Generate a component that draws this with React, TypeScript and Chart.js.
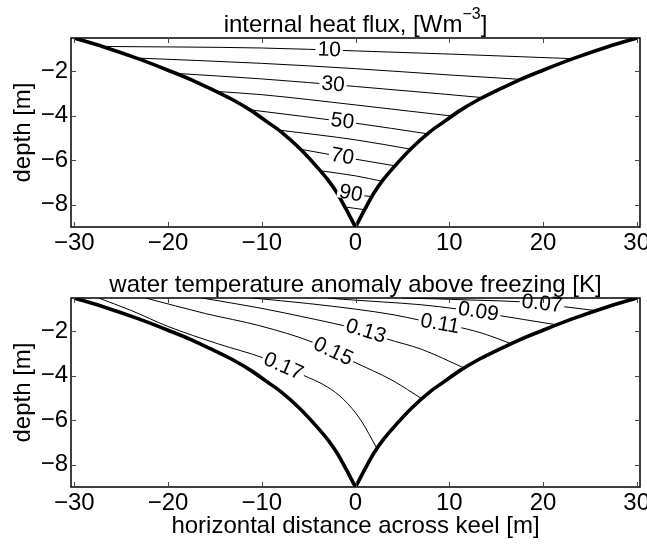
import React, { useEffect, useRef } from 'react';
import { Chart, registerables } from 'chart.js';

Chart.register(...registerables);

const FONT = "'Liberation Sans', Arial, Helvetica, sans-serif";

// axes
const X_TICKS = [-30, -20, -10, 0, 10, 20, 30];
const Y_TICKS = [-8, -6, -4, -2];
const X_RANGE = [-30.35, 30.35];
const Y_RANGE = [-9, -0.5];

// texts
const TOP_TITLE = 'internal heat flux, [Wm';
const TOP_TITLE_SUP = '\u22123';
const TOP_TITLE_END = ']';
const BOTTOM_TITLE = 'water temperature anomaly above freezing [K]';
const Y_LABEL = 'depth [m]';
const X_LABEL = 'horizontal distance across keel [m]';

// keel outline (symmetric): half width [m] and depth [m]
const KEEL_HALF_WIDTH = [30, 27, 23.2, 20, 17.5, 15, 13, 11, 9.5, 8, 6, 4, 3, 2, 1, 0.5, 0];
const KEEL_DEPTH = [-0.5, -0.88, -1.43, -1.95, -2.38, -2.88, -3.3, -3.8, -4.25, -4.7, -5.45, -6.35, -6.85, -7.45, -8.2, -8.6, -9];

// internal heat flux contours [W m^-3]
const FLUX_LEVELS = [10, 20, 30, 40, 50, 60, 70, 80, 90, 100];
const FLUX_X = [
  [-27, -10, 0, 10.5, 23.2],
  [-23.4, -10, 0, 10.3, 17.6],
  [-19.2, -10, 0, 9.6, 13.5],
  [-14.9, -10, 0, 10.3],
  [-11.26, 0, 7.7],
  [-8.2, 0, 5.9],
  [-5.9, 0, 4.22],
  [-3.76, 0, 2.81],
  [-2.16, 0, 1.75],
  [-1.1, 0.95],
];
const FLUX_Y = [
  [-0.88, -0.95, -1.08, -1.23, -1.43],
  [-1.4, -1.64, -1.88, -2.17, -2.36],
  [-2.09, -2.34, -2.68, -3.03, -3.18],
  [-2.9, -3.05, -3.51, -4.01],
  [-3.73, -4.33, -4.81],
  [-4.64, -5.08, -5.5],
  [-5.5, -5.95, -6.25],
  [-6.47, -6.7, -6.94],
  [-7.35, -7.55, -7.63],
  [-8.1, -8.22],
];
const FLUX_LABEL_LEVELS = [10, 30, 50, 70, 90];
const FLUX_LABEL_X = [-2.8, -2.4, -1.4, -1.4, -0.5];

// water temperature anomaly contours [K]
const TEMP_LEVELS = [0.07, 0.09, 0.11, 0.13, 0.15, 0.17];
const TEMP_X = [
  [5, 8.7, 13, 17.6, 19.9, 22.2, 25.7],
  [-3, -1.3, 3, 6.9, 11, 13.1, 15.2, 18, 21.5],
  [-11, -5, 0, 4, 6.9, 9, 11.1, 14, 16.6],
  [-16.4, -10.2, -5, -1.3, 1.1, 3.35, 7, 11.6],
  [-22.4, -16, -10.2, -4.5, -2.4, -0.4, 4, 7.1],
  [-27.4, -24, -20, -14.6, -9.8, -5.7, -3, -1.3, 0.5, 2.3],
];
const TEMP_Y = [
  [-0.5, -0.54, -0.6, -0.67, -0.77, -0.89, -1.07],
  [-0.5, -0.56, -0.68, -0.8, -1.0, -1.13, -1.28, -1.47, -1.71],
  [-0.5, -0.75, -1.0, -1.25, -1.5, -1.68, -1.82, -2.15, -2.56],
  [-0.5, -0.95, -1.4, -1.74, -2.0, -2.34, -2.8, -3.65],
  [-0.5, -1.2, -1.75, -2.5, -2.92, -3.33, -4.22, -5.04],
  [-0.5, -1.05, -1.78, -2.57, -3.2, -3.95, -4.5, -5.05, -5.95, -7.27],
];
const TEMP_LABEL_LEVELS = [0.07, 0.09, 0.11, 0.13, 0.15, 0.17];
const TEMP_LABEL_X = [19.9, 13.1, 9.0, 1.1, -2.4, -7.7];

const fmtTick = (v: number | string) => String(v).replace('-', '\u2212');

function interpY(xs: number[], ys: number[], x: number) {
  for (let i = 0; i < xs.length - 1; i++) {
    if (x >= xs[i] && x <= xs[i + 1]) {
      const t = (x - xs[i]) / (xs[i + 1] - xs[i]);
      return ys[i] + t * (ys[i + 1] - ys[i]);
    }
  }
  return x < xs[0] ? ys[0] : ys[ys.length - 1];
}

type PanelSpec = {
  padTop: number;
  xScaleHeight: number;
  showXTitle: boolean;
  lineXs: number[][];
  lineYs: number[][];
  levels: number[];
  labelLevels: number[];
  labelXs: number[];
  labelText: (v: number) => string;
  drawTitle: (ctx: CanvasRenderingContext2D, cx: number, baseline: number) => void;
};

function buildChart(canvas: HTMLCanvasElement, spec: PanelSpec) {
  const keelLeft = KEEL_HALF_WIDTH.map((w, i) => ({ x: -w, y: KEEL_DEPTH[i] }));
  const keelRight = KEEL_HALF_WIDTH.map((w, i) => ({ x: w, y: KEEL_DEPTH[i] })).reverse();
  const keelStyle = {
    showLine: true,
    borderColor: '#000',
    borderWidth: 3.6,
    pointRadius: 0,
    cubicInterpolationMode: 'monotone' as const,
    fill: false,
  };
  const datasets: any[] = [
    { ...keelStyle, data: keelLeft },
    { ...keelStyle, data: keelRight },
  ];
  spec.lineXs.forEach((xs, k) => {
    datasets.push({
      showLine: true,
      borderColor: '#000',
      borderWidth: 1,
      pointRadius: 0,
      cubicInterpolationMode: 'monotone',
      fill: false,
      data: xs.map((x, i) => ({ x, y: spec.lineYs[k][i] })),
    });
  });

  const labelPlugin = {
    id: 'contourLabels',
    afterDatasetsDraw(chart: any) {
      const { ctx, scales } = chart;
      const sx = scales.x;
      const sy = scales.y;
      ctx.save();
      ctx.font = `21px ${FONT}`;
      ctx.textAlign = 'center';
      ctx.textBaseline = 'middle';
      spec.labelLevels.forEach((lev, j) => {
        const k = spec.levels.indexOf(lev);
        const xs = spec.lineXs[k];
        const ys = spec.lineYs[k];
        const x = spec.labelXs[j];
        const px = sx.getPixelForValue(x);
        const py = sy.getPixelForValue(interpY(xs, ys, x));
        const x1 = x - 1.2;
        const x2 = x + 1.2;
        const ang = Math.atan2(
          sy.getPixelForValue(interpY(xs, ys, x2)) - sy.getPixelForValue(interpY(xs, ys, x1)),
          sx.getPixelForValue(x2) - sx.getPixelForValue(x1)
        );
        const text = spec.labelText(lev);
        const w = ctx.measureText(text).width;
        ctx.save();
        ctx.translate(px, py);
        ctx.rotate(ang);
        ctx.fillStyle = '#fff';
        ctx.fillRect(-w / 2 - 2, -6, w + 4, 12);
        ctx.fillStyle = '#000';
        ctx.fillText(text, 0, 0);
        ctx.restore();
      });
      ctx.restore();
    },
  };

  const framePlugin = {
    id: 'frameTicks',
    afterDraw(chart: any) {
      const { ctx, chartArea: a, scales } = chart;
      ctx.save();
      ctx.strokeStyle = '#000';
      ctx.lineWidth = 1.5;
      ctx.strokeRect(a.left, a.top, a.right - a.left, a.bottom - a.top);
      ctx.lineWidth = 1;
      ctx.strokeStyle = '#444';
      ctx.beginPath();
      X_TICKS.forEach((v) => {
        const p = Math.round(scales.x.getPixelForValue(v)) + 0.5;
        ctx.moveTo(p, a.bottom);
        ctx.lineTo(p, a.bottom - 5);
        ctx.moveTo(p, a.top);
        ctx.lineTo(p, a.top + 5);
      });
      Y_TICKS.forEach((v) => {
        const p = Math.round(scales.y.getPixelForValue(v)) + 0.5;
        ctx.moveTo(a.left, p);
        ctx.lineTo(a.left + 5, p);
        ctx.moveTo(a.right, p);
        ctx.lineTo(a.right - 5, p);
      });
      ctx.stroke();
      // title
      ctx.fillStyle = '#000';
      spec.drawTitle(ctx, (a.left + a.right) / 2, a.top - 6);
      ctx.restore();
    },
  };

  const tickFont = { family: FONT, size: 24 };

  return new Chart(canvas, {
    type: 'scatter',
    data: { datasets },
    options: {
      animation: false,
      responsive: false,
      events: [],
      layout: { padding: { top: spec.padTop, left: 0, right: 7, bottom: 0 } },
      plugins: {
        legend: { display: false },
        tooltip: { enabled: false },
        title: { display: false },
      },
      scales: {
        x: {
          type: 'linear',
          min: X_RANGE[0],
          max: X_RANGE[1],
          grid: { display: false, drawTicks: false },
          border: { display: false },
          ticks: {
            color: '#000',
            font: tickFont,
            padding: 2,
            maxRotation: 0,
            autoSkip: false,
            callback: (v: any) => fmtTick(v),
          },
          title: {
            display: spec.showXTitle,
            text: X_LABEL,
            color: '#000',
            font: tickFont,
            padding: { top: 0, bottom: 5 },
          },
          afterBuildTicks: (s: any) => {
            s.ticks = X_TICKS.map((v) => ({ value: v }));
          },
          afterFit: (s: any) => {
            s.height = spec.xScaleHeight;
            s.paddingLeft = 0;
            s.paddingRight = 0;
          },
        },
        y: {
          type: 'linear',
          min: Y_RANGE[0],
          max: Y_RANGE[1],
          grid: { display: false, drawTicks: false },
          border: { display: false },
          ticks: {
            color: '#000',
            font: tickFont,
            padding: 3,
            autoSkip: false,
            callback: (v: any) => fmtTick(v),
          },
          title: {
            display: true,
            text: Y_LABEL,
            color: '#000',
            font: tickFont,
            padding: { top: 9, bottom: 0 },
          },
          afterBuildTicks: (s: any) => {
            s.ticks = Y_TICKS.map((v) => ({ value: v }));
          },
          afterFit: (s: any) => {
            s.width = 71;
            s.paddingTop = 0;
            s.paddingBottom = 0;
          },
        },
      },
    } as any,
    plugins: [labelPlugin, framePlugin],
  });
}

function drawTopTitle(ctx: CanvasRenderingContext2D, cx: number, baseline: number) {
  ctx.textAlign = 'left';
  ctx.textBaseline = 'alphabetic';
  ctx.font = `24px ${FONT}`;
  const w1 = ctx.measureText(TOP_TITLE).width;
  const w3 = ctx.measureText(TOP_TITLE_END).width;
  ctx.font = `16px ${FONT}`;
  const w2 = ctx.measureText(TOP_TITLE_SUP).width;
  const x0 = cx - (w1 + w2 + w3) / 2;
  ctx.font = `24px ${FONT}`;
  ctx.fillText(TOP_TITLE, x0, baseline);
  ctx.fillText(TOP_TITLE_END, x0 + w1 + w2, baseline);
  ctx.font = `16px ${FONT}`;
  ctx.fillText(TOP_TITLE_SUP, x0 + w1, baseline - 13);
}

function drawBottomTitle(ctx: CanvasRenderingContext2D, cx: number, baseline: number) {
  ctx.textAlign = 'center';
  ctx.textBaseline = 'alphabetic';
  ctx.font = `24px ${FONT}`;
  ctx.fillText(BOTTOM_TITLE, cx, baseline);
}

export default function App() {
  const topRef = useRef<HTMLCanvasElement>(null);
  const botRef = useRef<HTMLCanvasElement>(null);

  useEffect(() => {
    const top = buildChart(topRef.current!, {
      padTop: 38,
      xScaleHeight: 46,
      showXTitle: false,
      lineXs: FLUX_X,
      lineYs: FLUX_Y,
      levels: FLUX_LEVELS,
      labelLevels: FLUX_LABEL_LEVELS,
      labelXs: FLUX_LABEL_X,
      labelText: (v) => String(v),
      drawTitle: drawTopTitle,
    });
    const bot = buildChart(botRef.current!, {
      padTop: 25,
      xScaleHeight: 59,
      showXTitle: true,
      lineXs: TEMP_X,
      lineYs: TEMP_Y,
      levels: TEMP_LEVELS,
      labelLevels: TEMP_LABEL_LEVELS,
      labelXs: TEMP_LABEL_X,
      labelText: (v) => v.toFixed(2),
      drawTitle: drawBottomTitle,
    });
    return () => {
      top.destroy();
      bot.destroy();
    };
  }, []);

  return (
    <div style={{ position: 'absolute', left: 0, top: 0, width: 647, height: 546, background: '#fff' }}>
      <canvas ref={topRef} width={647} height={273} style={{ position: 'absolute', left: 0, top: 0, display: 'block' }} />
      <canvas ref={botRef} width={647} height={273} style={{ position: 'absolute', left: 0, top: 273, display: 'block' }} />
    </div>
  );
}
